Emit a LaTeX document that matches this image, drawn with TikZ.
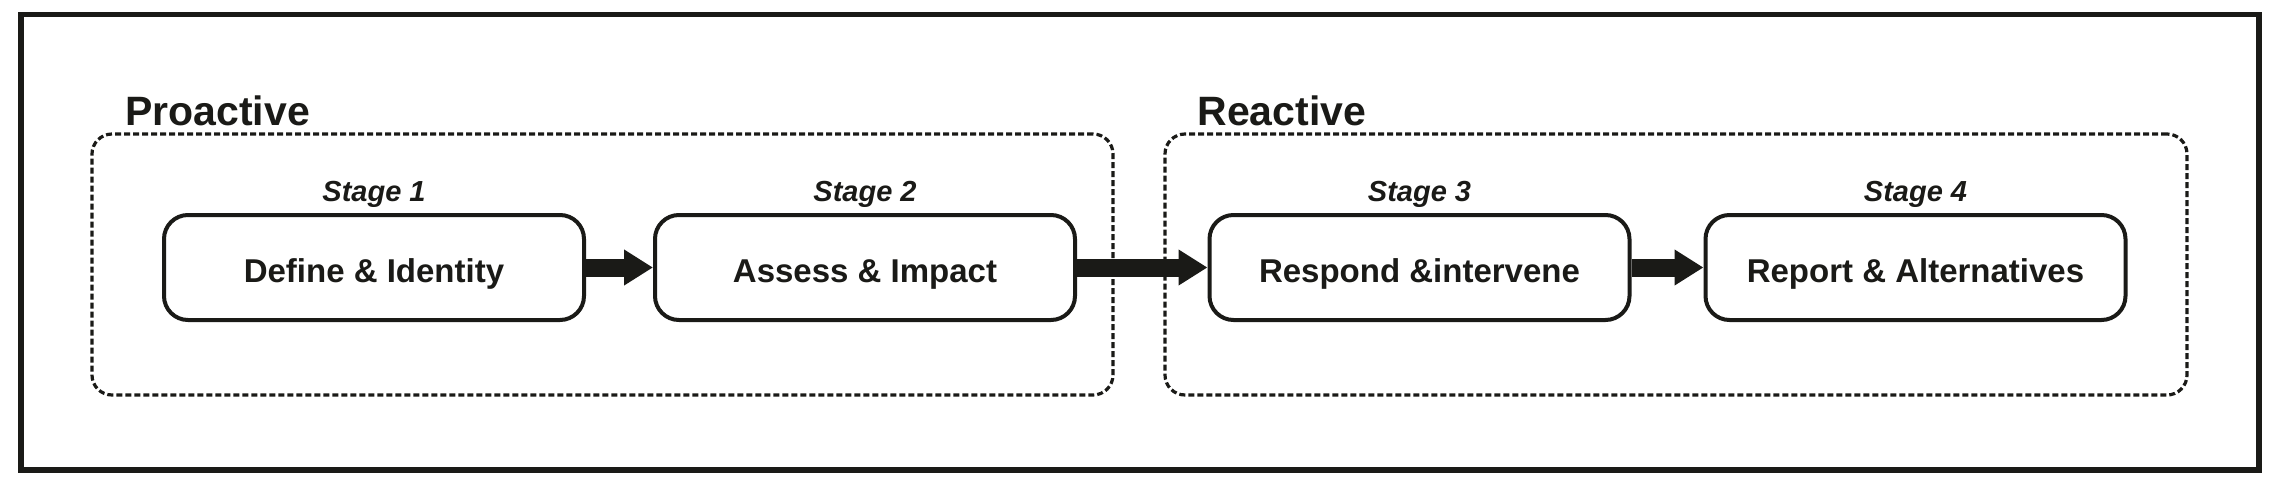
\documentclass[tikz,border=0pt]{standalone}
\usepackage{fontspec}
\setmainfont{Liberation Sans}
\usetikzlibrary{arrows.meta}
\definecolor{ink}{HTML}{1A1A17}
\tikzset{
  frame/.style={draw=ink, line width=2.75pt, minimum width=1119pt, minimum height=227.75pt, inner sep=0pt},
  groupbox/.style={draw=ink, line width=1.6pt, dash pattern=on 3pt off 1.5pt, rounded corners=10pt, minimum height=130.5pt, inner sep=0pt},
  grouplbl/.style={font=\fontsize{20.5pt}{24pt}\selectfont\bfseries, text=ink, inner sep=0pt, anchor=base west},
  stagebox/.style={draw=ink, line width=2pt, rounded corners=12pt, minimum width=210pt, minimum height=52.5pt, fill=white,
    font=\fontsize{16.5pt}{20pt}\selectfont\bfseries, text=ink, inner sep=0pt, text height=14.5pt, text depth=0pt},
  stagelbl/.style={font=\fontsize{14.5pt}{17pt}\selectfont\bfseries\itshape, text=ink, inner sep=0pt, anchor=base},
  flow/.style={draw=ink, line width=9pt, -{Triangle[width=17pt, length=14.5pt]}}
}
\begin{document}
\begin{tikzpicture}[x=0.5pt, y=-0.5pt]
\useasboundingbox (0,0) rectangle (2272,488);
\node[frame] (fr) at (1140,242.25) {};
\node[groupbox, minimum width=510.5pt] (pro) at (602.5,264.5) {};
\node[groupbox, minimum width=511pt] (rea) at (1676,264.5) {};
\node[grouplbl] (prolbl) at (125,125) {Proactive};
\node[grouplbl] (realbl) at (1197,125) {Reactive};

\node[stagebox] (b1) at (374,267.5) {Define \& Identity};
\node[stagebox] (b2) at (865,267.5) {Assess \& Impact};
\node[stagebox] (b3) at (1419.5,267.5) {Respond \&intervene};
\node[stagebox] (b4) at (1915.5,267.5) {Report \& Alternatives};

\node[stagelbl] (s1) at ([yshift=6pt]b1.north) {Stage 1};
\node[stagelbl] (s2) at ([yshift=6pt]b2.north) {Stage 2};
\node[stagelbl] (s3) at ([yshift=6pt]b3.north) {Stage 3};
\node[stagelbl] (s4) at ([yshift=6pt]b4.north) {Stage 4};

\draw[flow] (b1.east) -- (b2.west);
\draw[flow] (b2.east) -- (b3.west);
\draw[flow] (b3.east) -- (b4.west);
\end{tikzpicture}
\end{document}
